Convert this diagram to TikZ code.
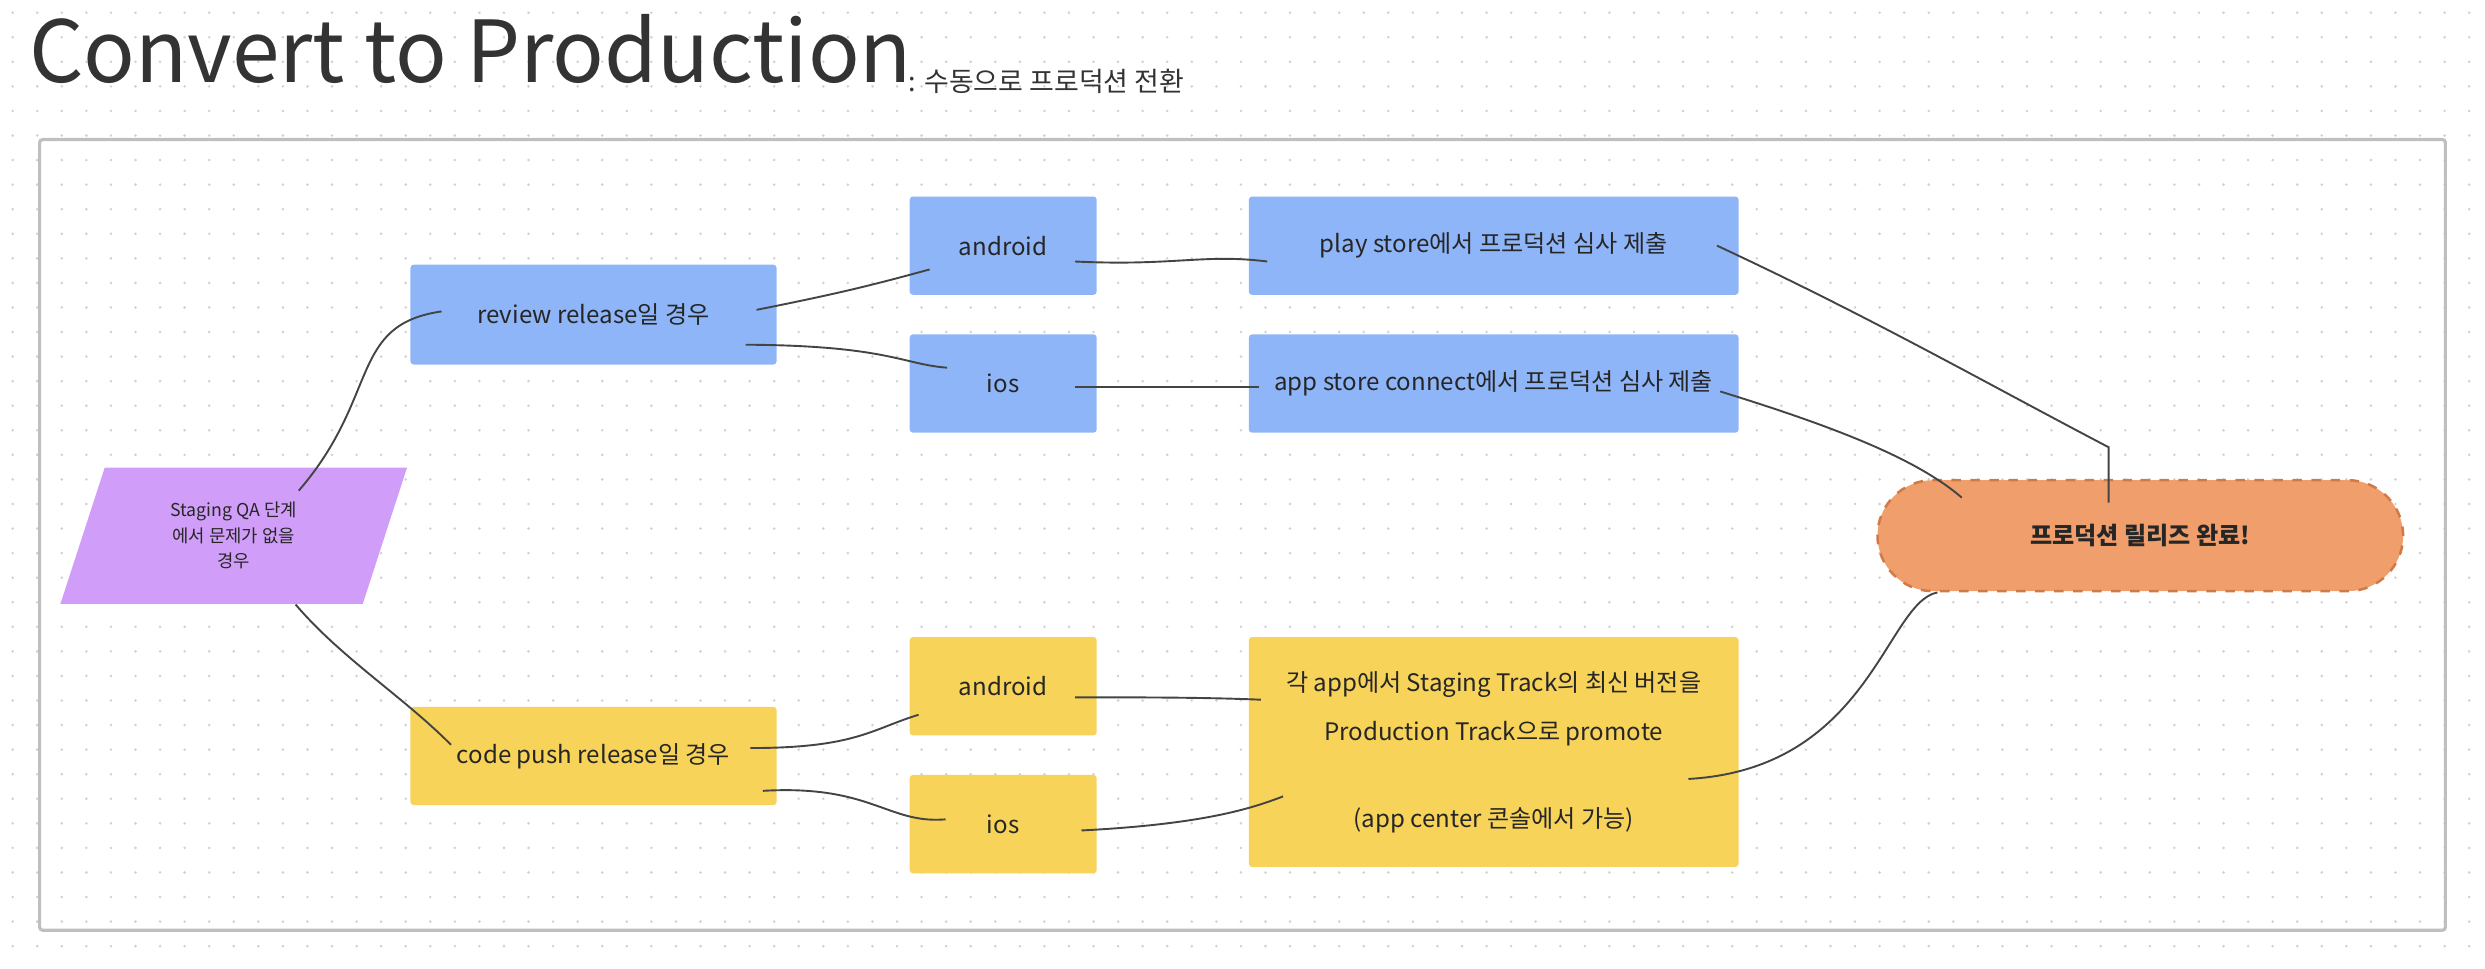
\documentclass[tikz,border=0pt]{standalone}
\usepackage{fontspec}
\setmainfont{Noto Sans CJK KR}
\usetikzlibrary{shapes.geometric,shapes.misc,calc}
\definecolor{bluebox}{HTML}{8FB5F9}
\definecolor{yelbox}{HTML}{F7D35A}
\definecolor{purp}{HTML}{D09EF8}
\definecolor{orng}{HTML}{F09E6B}
\definecolor{orngdark}{HTML}{D07A45}
\definecolor{wire}{HTML}{444444}
\tikzset{
    box/.style = {
        shape=rectangle,
        rounded corners=1pt,
        inner sep=0pt,
        font=\fontsize{7.6}{11}\selectfont,
        text=black!85,
        align=center
    },
    blue/.style = {box, fill=bluebox},
    yellow/.style = {box, fill=yelbox},
    link/.style = {draw=wire, line width=0.6pt},
}
\begin{document}
\begin{tikzpicture}[x=0.5pt,y=-0.5pt]
                \useasboundingbox (0,0) rectangle (1568,611);
                % dotted background
                \foreach \i in {0,...,101} {
                    \foreach \j in {0,...,39} {
                        \fill[black!18] (8+15.5*\i,8+15.5*\j) circle (0.45pt);
                    }
                }
                \node[anchor=base west, font=\fontsize{27}{30}\selectfont, text=black!80, inner sep=0pt] (title) at (18,52) {Convert to Production};
                \node[anchor=base west, font=\fontsize{8.5}{10}\selectfont, text=black!80, inner sep=0pt] (sub) at (573,58) {: 수동으로 프로덕션 전환};
                \draw[black!25, line width=1pt, rounded corners=1pt] (25,88) rectangle (1543,587);

                \node[trapezium, trapezium left angle=72, trapezium right angle=108, fill=purp, minimum width=83pt, minimum height=43pt, inner sep=0pt, font=\fontsize{5.6}{8}\selectfont, align=center, text=black!85] (qa) at (147.5,338) {Staging QA 단계\\에서 문제가 없을\\경우};

                \node[blue, minimum width=115.5pt, minimum height=31.5pt] (review) at (374.5,198.5) {review release일 경우};
                \node[blue, minimum width=59pt, minimum height=31pt] (rand) at (633,155) {android};
                \node[blue, minimum width=59pt, minimum height=31pt] (rios) at (633,242) {ios};
                \node[blue, minimum width=154.5pt, minimum height=31pt] (play) at (942.5,155) {play store에서 프로덕션 심사 제출};
                \node[blue, minimum width=154.5pt, minimum height=31pt] (appst) at (942.5,242) {app store connect에서 프로덕션 심사 제출};

                \node[yellow, minimum width=115.5pt, minimum height=31pt] (code) at (374.5,477) {code push release일 경우};
                \node[yellow, minimum width=59pt, minimum height=31pt] (cand) at (633,433) {android};
                \node[yellow, minimum width=59pt, minimum height=31pt] (cios) at (633,520) {ios};
                \node[yellow, minimum width=154.5pt, minimum height=72.5pt, font=\fontsize{7.6}{15.5}\selectfont] (promote) at (942.5,474.5) {각 app에서 Staging Track의 최신 버전을\\Production Track으로 promote\\[12pt](app center 콘솔에서 가능)};

                \node[rounded rectangle, fill=orng, draw=orngdark, dashed, line width=0.8pt, minimum width=172.5pt, minimum height=35pt, font=\bfseries\fontsize{7.6}{10}\selectfont, text=black!85] (done) at (1350.5,338) {프로덕션 릴리즈 완료!};

                \path[link] ($(qa.north)+(41,15)$) .. controls (240,250) and (220,205) .. ($(review.west)+(20,-2)$);
                \path[link] ($(qa.south)+(39,0)$) .. controls (215,415) and (255,440) .. ($(code.west)+(26,-7)$);
                \path[link] ($(review.east)+(-13,-3)$) .. controls (530,185) and (550,180) .. ($(rand.west)+(13,15)$);
                \path[link] ($(review.east)+(-20,19)$) .. controls (560,218) and (570,230) .. ($(rios.west)+(24,-10)$);
                \path[link] ($(rand.east)+(-14,10)$) .. controls (740,168) and (760,160) .. ($(play.west)+(12,10)$);
                \path[link] ($(rios.east)+(-14,2)$) -- ($(appst.west)+(7,2)$);
                \path[link] ($(play.east)+(-14,0)$) .. controls (1180,200) and (1250,240) .. ($(done.north)+(-20,-20)$) -- ($(done.north)+(-20,15)$);
                \path[link] ($(appst.east)+(-12,5)$) .. controls (1160,270) and (1210,290) .. ($(done.west)+(54,-24)$);
                \path[link] ($(code.east)+(-17,-5)$) .. controls (540,472) and (550,460) .. ($(cand.west)+(6,18)$);
                \path[link] ($(code.east)+(-9,22)$) .. controls (550,495) and (560,520) .. ($(cios.west)+(23,-3)$);
                \path[link] ($(cand.east)+(-14,7)$) .. controls (720,440) and (760,440) .. ($(promote.west)+(8,-33)$);
                \path[link] ($(cios.east)+(-10,4)$) .. controls (760,520) and (790,510) .. ($(promote.west)+(22,28)$);
                \path[link] ($(promote.east)+(-32,17)$) .. controls (1180,485) and (1190,380) .. ($(done.south)+(-128,0)$);
            \end{tikzpicture}
\end{document}
